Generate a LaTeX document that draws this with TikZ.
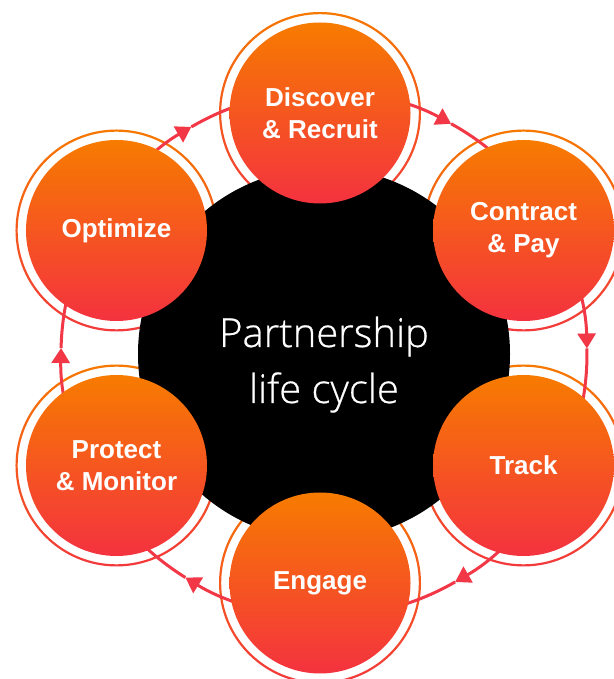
\documentclass[tikz,border=0pt]{standalone}
\usepackage{fontspec}
\usetikzlibrary{arrows.meta,calc}
\newfontfamily\labelfont{Liberation Sans}
\IfFontExistsTF{OpenSans-Light.ttf}{\newfontfamily\hubfont{OpenSans-Light.ttf}[FakeBold=0.6]}{%
  \IfFontExistsTF{FiraSans-Light.otf}{\newfontfamily\hubfont{FiraSans-Light.otf}}{%
    \newfontfamily\hubfont{Liberation Sans}}}
\definecolor{satTop}{HTML}{F77B00}
\definecolor{satBot}{HTML}{F4323F}
\definecolor{ringTop}{HTML}{F67800}
\definecolor{ringBot}{HTML}{F33A3C}
\definecolor{flowRed}{HTML}{F23846}
\tikzset{
  sat/.style={circle, minimum size=181pt, inner sep=0pt, top color=satTop, bottom color=satBot,
    text=white, align=center, font=\labelfont\bfseries\fontsize{26}{32}\selectfont},
  ringshade/.style={top color=ringTop, bottom color=ringBot, even odd rule},
  flowline/.style={draw=flowRed, line width=3pt},
  flowarrow/.style={flowline, -{Triangle[width=18pt,length=15pt]}},
  hubtext/.style={text=white, font=\hubfont\fontsize{40}{46}\selectfont, inner sep=0pt}
}
\begin{document}
\begin{tikzpicture}[x=1pt,y=1pt]
\useasboundingbox[fill=white] (0,0) rectangle (613,679);
% centres
\coordinate (rc) at (320,331);
\coordinate (ac) at (324,325);
\coordinate (pD) at ($(rc)+(90:235)$);
\coordinate (pC) at ($(rc)+(30:235)$);
\coordinate (pT) at ($(rc)+(-30:235)$);
\coordinate (pE) at ($(rc)+(-90:235)$);
\coordinate (pP) at ($(rc)+(210:235)$);
\coordinate (pO) at ($(rc)+(150:235)$);
% outer rings
\foreach \p in {pD,pC,pT,pE,pP,pO}{
  \shade[ringshade] (\p) circle[radius=101] (\p) circle[radius=98.8];
}
% flow arcs
\coordinate (aD) at ($(ac)+(90.9:263)$);
\coordinate (mDC) at ($(ac)+(61.1:263)$);
\coordinate (aC) at ($(ac)+(31.3:263)$);
\coordinate (mCT) at ($(ac)+(1.2:263)$);
\coordinate (aT) at ($(ac)+(-28.9:263)$);
\coordinate (mTE) at ($(ac)+(-60.1:263)$);
\coordinate (aE) at ($(ac)+(-91.3:263)$);
\coordinate (mEP) at ($(ac)+(-121.8:263)$);
\coordinate (aP) at ($(ac)+(207.8:263)$);
\coordinate (mPO) at ($(ac)+(178.7:263)$);
\coordinate (aO) at ($(ac)+(149.6:263)$);
\coordinate (mOD) at ($(ac)+(120.3:263)$);
\draw[flowarrow] (aD) arc[start angle=90.9, end angle=61.1, radius=263];
\draw[flowline] (mDC) arc[start angle=61.1, end angle=31.3, radius=263];
\draw[flowarrow] (aC) arc[start angle=31.3, end angle=1.2, radius=263];
\draw[flowline] (mCT) arc[start angle=1.2, end angle=-28.9, radius=263];
\draw[flowarrow] (aT) arc[start angle=-28.9, end angle=-60.1, radius=263];
\draw[flowline] (mTE) arc[start angle=-60.1, end angle=-91.3, radius=263];
\draw[flowarrow] (aE) arc[start angle=-91.3, end angle=-121.8, radius=263];
\draw[flowline] (mEP) arc[start angle=-121.8, end angle=-152.2, radius=263];
\draw[flowarrow] (aP) arc[start angle=207.8, end angle=178.7, radius=263];
\draw[flowline] (mPO) arc[start angle=178.7, end angle=149.6, radius=263];
\draw[flowarrow] (aO) arc[start angle=149.6, end angle=120.3, radius=263];
\draw[flowline] (mOD) arc[start angle=120.3, end angle=90.9, radius=263];
% hub
\node[circle, fill=black, minimum size=372pt, inner sep=0pt] (hub) at (ac) {};
% satellites
\node[sat] (disc) at (pD) {Discover\\\& Recruit};
\node[sat] (cont) at (pC) {Contract\\\& Pay};
\node[sat] (track) at (pT) {Track};
\node[sat] (eng) at (pE) {Engage};
\node[sat] (prot) at (pP) {Protect\\\& Monitor};
\node[sat] (opt) at (pO) {Optimize};
% hub text
\node[hubtext, anchor=base] (t1) at (324,332) {Partnership};
\node[hubtext, anchor=base] (t2) at (324,276) {life cycle};
\end{tikzpicture}
\end{document}
